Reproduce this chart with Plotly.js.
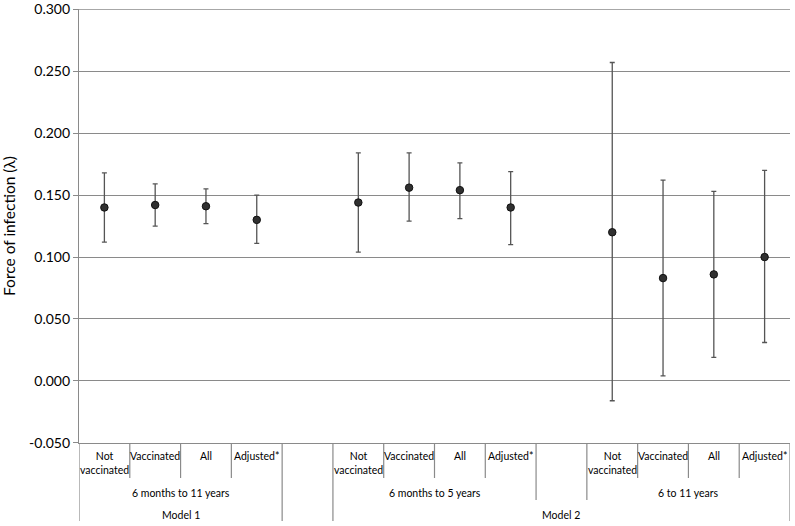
<!DOCTYPE html>
<html>
<head>
<meta charset="utf-8">
<script src="https://cdn.plot.ly/plotly-3.0.1.min.js"></script>
<style>
html, body { margin: 0; padding: 0; background: #fff; }
#chart { width: 795px; height: 526px; }
</style>
</head>
<body>
<div id="chart"></div>
<script>
// ---- Data ----
const categories = ["Not vaccinated", "Vaccinated", "All", "Adjusted*"];
const categoryLabels = ["Not<br>vaccinated", "Vaccinated", "All", "Adjusted*"];
const groups = ["6 months to 11 years", "6 months to 5 years", "6 to 11 years"];
const models = ["Model 1", "Model 2"];
const modelGroups = [[0], [1, 2]];

// point estimates, one array per age group (order = categories)
const est_6m_11y = [0.140, 0.142, 0.141, 0.130];
const est_6m_5y  = [0.144, 0.156, 0.154, 0.140];
const est_6y_11y = [0.120, 0.083, 0.086, 0.100];

// upper confidence limits
const upper_6m_11y = [0.168, 0.159, 0.155, 0.150];
const upper_6m_5y  = [0.184, 0.184, 0.176, 0.169];
const upper_6y_11y = [0.257, 0.162, 0.153, 0.170];

// lower confidence limits
const lower_6m_11y = [0.112, 0.125, 0.127, 0.111];
const lower_6m_5y  = [0.104, 0.129, 0.131, 0.110];
const lower_6y_11y = [-0.016, 0.004, 0.019, 0.031];

const yTickValues = [-0.05, 0, 0.05, 0.10, 0.15, 0.20, 0.25, 0.30];
const yTickLabels = ["-0.050", "0.000", "0.050", "0.100", "0.150", "0.200", "0.250", "0.300"];

// ---- Build ----
const estimates = [est_6m_11y, est_6m_5y, est_6y_11y];
const uppers = [upper_6m_11y, upper_6m_5y, upper_6y_11y];
const lowers = [lower_6m_11y, lower_6m_5y, lower_6y_11y];

const slot = categories.length + 1; // each group occupies its categories + one blank slot
const nSlots = groups.length * slot - 1;

const xs = [], ys = [], ePlus = [], eMinus = [], hover = [];
groups.forEach((g, gi) => {
  categories.forEach((c, ci) => {
    xs.push(gi * slot + ci);
    ys.push(estimates[gi][ci]);
    ePlus.push(uppers[gi][ci] - estimates[gi][ci]);
    eMinus.push(estimates[gi][ci] - lowers[gi][ci]);
    hover.push(g + " – " + c);
  });
});

const trace = {
  type: "scatter",
  mode: "markers",
  x: xs,
  y: ys,
  text: hover,
  marker: { size: 7.5, color: "#303030", line: { color: "#111", width: 1 } },
  error_y: {
    type: "data", symmetric: false, array: ePlus, arrayminus: eMinus,
    color: "#555", thickness: 1.3, width: 2.5
  },
  showlegend: false
};

// Category axis drawn below the plot
const plotTop = 9, plotBottom = 443, plotH = plotBottom - plotTop;
const py = (pix) => (plotBottom - pix) / plotH; // pixel -> paper y
const lineCol = "#8a8a8a";
const shapes = [];
const annotations = [];
function vline(x, pixBottom) {
  shapes.push({ type: "line", xref: "x", yref: "paper", x0: x, x1: x,
    y0: 0, y1: py(pixBottom), line: { color: lineCol, width: 1.2 } });
}
// top gridline (at the edge of the range, which Plotly does not draw itself)
const yTop = yTickValues[yTickValues.length - 1];
shapes.push({ type: "line", xref: "paper", yref: "y", x0: 0, x1: 1, y0: yTop, y1: yTop,
  line: { color: lineCol, width: 1.2 }, layer: "below" });

const FONT = "Lato, 'Open Sans', sans-serif";
const labelFont = { family: FONT, size: 10.5, color: "#000" };

groups.forEach((g, gi) => {
  const start = gi * slot;
  categories.forEach((c, ci) => {
    annotations.push({ xref: "x", yref: "paper", x: start + ci, y: py(448),
      yanchor: "top", xanchor: "center", text: categoryLabels[ci], showarrow: false,
      font: labelFont, align: "center" });
    if (ci > 0) vline(start + ci - 0.5, 478);
  });
  annotations.push({ xref: "x", yref: "paper", x: start + (categories.length - 1) / 2,
    y: py(493), yanchor: "middle", xanchor: "center", text: g, showarrow: false,
    font: labelFont });
});

models.forEach((m, mi) => {
  const gs = modelGroups[mi];
  const first = gs[0] * slot;
  const last = gs[gs.length - 1] * slot + categories.length - 1;
  annotations.push({ xref: "x", yref: "paper", x: (first + last) / 2,
    y: py(515), yanchor: "middle", xanchor: "center", text: m, showarrow: false,
    font: labelFont });
  vline(first - 0.5, 521);
  vline(last + 0.5, 521);
  for (let k = 1; k < gs.length; k++) {
    vline(gs[k] * slot - 1.5, 500);
    vline(gs[k] * slot - 0.5, 500);
  }
});

const layout = {
  width: 795, height: 526,
  margin: { l: 79, r: 5, t: plotTop, b: 526 - plotBottom },
  paper_bgcolor: "#fff", plot_bgcolor: "#fff",
  font: { family: FONT, color: "#000" },
  xaxis: {
    range: [-0.5, nSlots - 0.5], showticklabels: false, ticks: "",
    showgrid: false, zeroline: false, showline: true, linecolor: lineCol, linewidth: 1.2,
    fixedrange: true
  },
  yaxis: {
    range: [-0.0501, 0.3002], tickvals: yTickValues, ticktext: yTickLabels,
    ticks: "outside", ticklen: 5, tickcolor: lineCol, tickwidth: 1.2,
    showgrid: true, gridcolor: lineCol, gridwidth: 1.2,
    zeroline: false, showline: true, linecolor: lineCol, linewidth: 1.2,
    tickfont: { family: FONT, size: 14, color: "#000" },
    title: { text: "Force of infection (λ)", standoff: 10,
      font: { family: FONT, size: 15.5, color: "#000" } },
    fixedrange: true
  },
  shapes: shapes,
  annotations: annotations,
  hovermode: "closest"
};

Plotly.newPlot("chart", [trace], layout, { displayModeBar: false });
</script>
</body>
</html>
